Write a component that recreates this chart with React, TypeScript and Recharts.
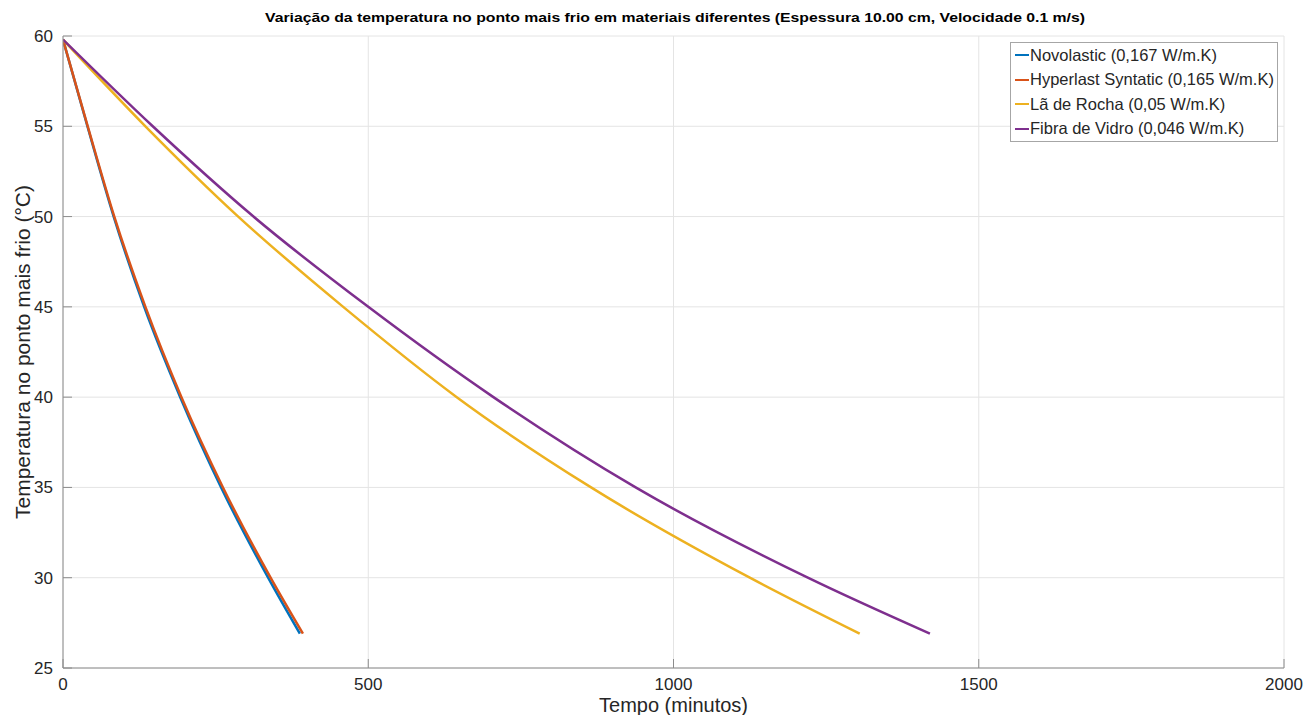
import { LineChart, Line, XAxis, YAxis, CartesianGrid, Label } from 'recharts'

const temperaturas = [59.8, 55, 50, 45, 40, 35, 30, 26.9]

// tempo (minutos) em que cada material atinge a temperatura acima
const tempoNovolastic = [0, 40, 83, 133, 192, 259, 336, 388]
const tempoHyperlast = [0, 40.5, 84, 135, 194, 262, 340, 393]
const tempoLaRocha = [0, 135, 287, 459, 645, 865, 1125, 1305]
const tempoFibraVidro = [0, 147, 312, 500, 705, 938, 1220, 1420]

const xTicks = [0, 500, 1000, 1500, 2000]
const yTicks = [25, 30, 35, 40, 45, 50, 55, 60]

const FONT = '"Liberation Sans", Arial, Helvetica, sans-serif'
const TEXT = '#262626'
const AXIS = '#8c8c8c'

const TITLE = 'Variação da temperatura no ponto mais frio em materiais diferentes (Espessura 10.00 cm, Velocidade 0.1 m/s)'

const series = [
  { name: 'Novolastic (0,167 W/m.K)', color: '#0072BD', tempo: tempoNovolastic },
  { name: 'Hyperlast Syntatic (0,165 W/m.K)', color: '#D95319', tempo: tempoHyperlast },
  { name: 'Lã de Rocha (0,05 W/m.K)', color: '#EDB120', tempo: tempoLaRocha },
  { name: 'Fibra de Vidro (0,046 W/m.K)', color: '#7E2F8E', tempo: tempoFibraVidro },
]

function toPoints(tempo: number[]) {
  return tempo.map((t, i) => ({ t, temp: temperaturas[i] }))
}

const TICK_MARGIN = 10
const TICK_LEN = 9

function XTick({ x, y, payload }: any) {
  const axisY = y - TICK_MARGIN
  return (
    <g>
      <line x1={x} x2={x} y1={axisY} y2={axisY - TICK_LEN} stroke={AXIS} />
      <text x={x} y={y} dy="0.71em" textAnchor="middle" fill={TEXT} fontSize={17} fontFamily={FONT}>
        {payload.value}
      </text>
    </g>
  )
}

function YTick({ x, y, payload }: any) {
  const axisX = x + TICK_MARGIN
  return (
    <g>
      <line x1={axisX} x2={axisX + TICK_LEN} y1={y} y2={y} stroke={AXIS} />
      <text x={x} y={y} dy="0.355em" textAnchor="end" fill={TEXT} fontSize={17} fontFamily={FONT}>
        {payload.value}
      </text>
    </g>
  )
}

export default function App() {
  return (
    <div style={{ position: 'absolute', left: 0, top: 0, width: 1304, height: 715, background: '#fff', fontFamily: FONT }}>
      <LineChart width={1304} height={715} margin={{ top: 36, right: 20, bottom: 0, left: 0 }}>
        <text
          x={675}
          y={17}
          textAnchor="middle"
          dominantBaseline="central"
          fontSize={13}
          fontWeight="bold"
          fontFamily={FONT}
          fill="#000"
          textLength={820}
          lengthAdjust="spacingAndGlyphs"
        >
          {TITLE}
        </text>
        <CartesianGrid stroke="#e4e4e4" />
        <XAxis
          type="number"
          dataKey="t"
          domain={[0, 2000]}
          ticks={xTicks}
          height={47}
          tickSize={0}
          tickMargin={TICK_MARGIN}
          tick={<XTick />}
          stroke={AXIS}
          allowDataOverflow
        >
          <Label
            content={({ viewBox }: any) => (
              <text
                x={viewBox.x + viewBox.width / 2}
                y={705}
                textAnchor="middle"
                dominantBaseline="central"
                fill={TEXT}
                fontSize={20}
                fontFamily={FONT}
              >
                Tempo (minutos)
              </text>
            )}
          />
        </XAxis>
        <YAxis
          type="number"
          domain={[25, 60]}
          ticks={yTicks}
          width={63}
          tickSize={0}
          tickMargin={TICK_MARGIN}
          tick={<YTick />}
          stroke={AXIS}
          allowDataOverflow
        >
          <Label
            content={({ viewBox }: any) => {
              const cy = viewBox.y + viewBox.height / 2
              return (
                <text
                  x={22}
                  y={cy}
                  transform={`rotate(-90 22 ${cy})`}
                  textAnchor="middle"
                  dominantBaseline="central"
                  fill={TEXT}
                  fontSize={21}
                  fontFamily={FONT}
                >
                  Temperatura no ponto mais frio (°C)
                </text>
              )
            }}
          />
        </YAxis>
        {series.map((s) => (
          <Line
            key={s.name}
            data={toPoints(s.tempo)}
            dataKey="temp"
            type="monotone"
            stroke={s.color}
            strokeWidth={2.5}
            dot={false}
            isAnimationActive={false}
          />
        ))}
      </LineChart>

      <div
        style={{
          position: 'absolute', left: 1010, top: 42, width: 268, boxSizing: 'border-box',
          border: '1px solid #a6a6a6', background: '#fff', padding: '0 0 0 4px',
        }}
      >
        {series.map((s) => (
          <div key={s.name} style={{ display: 'flex', alignItems: 'center', height: 24.5, fontSize: 16.5, color: TEXT }}>
            <span style={{ width: 14, height: 2, background: s.color, marginRight: 1, flexShrink: 0 }} />
            <span style={{ whiteSpace: 'nowrap' }}>{s.name}</span>
          </div>
        ))}
      </div>
    </div>
  )
}
